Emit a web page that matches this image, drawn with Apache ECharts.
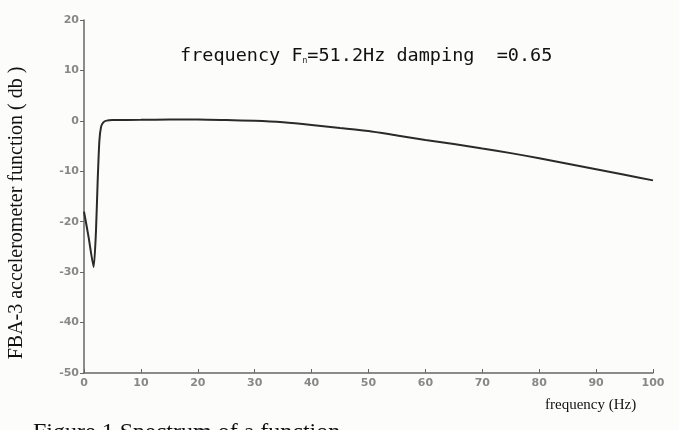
<!DOCTYPE html>
<html lang="en">
<head>
    <meta charset="UTF-8">
    <title>FBA-3 accelerometer function</title>
    <script src="https://cdn.jsdelivr.net/npm/echarts/dist/echarts.min.js"></script>
    <style>
        html, body { margin: 0; padding: 0; background: #fcfcfa; }
        #chart { width: 679px; height: 430px; }
    </style>
</head>
<body>
    <div id="chart"></div>
    <script>
        // frequency (Hz) and response (db)
        var freq = [0, 0.8, 1.7, 2.1, 2.4, 2.7, 3.0, 3.4, 4.0, 5, 10, 15, 20, 25, 30, 35, 40, 45, 50, 55, 60, 65, 70, 75, 80, 85, 90, 95, 100];
        var db   = [-18, -23, -29, -22, -12, -4, -1.2, -0.3, 0.05, 0.15, 0.2, 0.25, 0.25, 0.15, 0, -0.3, -0.8, -1.4, -2.0, -2.9, -3.8, -4.6, -5.5, -6.4, -7.4, -8.5, -9.6, -10.7, -11.8];
        var yTicks = [-50, 20, 10];   // min, max, interval
        var xTicks = [0, 100, 10];

        var points = freq.map(function (f, i) { return [f, db[i]]; });

        var chart = echarts.init(document.getElementById('chart'));
        var tickLabel = {
            color: '#888',
            fontFamily: 'DejaVu Sans',
            fontWeight: 'bold',
            fontSize: 11
        };
        chart.setOption({
            backgroundColor: '#fcfcfa',
            animation: false,
            grid: { left: 84, right: 26, top: 20, bottom: 57 },
            xAxis: {
                type: 'value',
                min: xTicks[0], max: xTicks[1], interval: xTicks[2],
                axisLine: { onZero: false, lineStyle: { color: '#666', width: 1.5 } },
                axisTick: { inside: true, length: 4, lineStyle: { color: '#666' } },
                axisLabel: Object.assign({ margin: 5 }, tickLabel),
                splitLine: { show: false }
            },
            yAxis: {
                type: 'value',
                min: yTicks[0], max: yTicks[1], interval: yTicks[2],
                axisLine: { show: true, lineStyle: { color: '#666', width: 1.5 } },
                axisTick: { show: true, length: 4, lineStyle: { color: '#666' } },
                axisLabel: Object.assign({ margin: 5 }, tickLabel),
                splitLine: { show: false }
            },
            series: [{
                type: 'line',
                data: points,
                showSymbol: false,
                smooth: 0.2,
                lineStyle: { color: '#2a2a2a', width: 2 }
            }],
            graphic: [
                {
                    type: 'text',
                    left: 180, top: 47,
                    style: {
                        text: '{a|frequency F}{s|n}{a|=51.2Hz damping  =0.65}',
                        rich: {
                            a: { fontFamily: 'DejaVu Sans Mono', fontSize: 18.5, fill: '#111' },
                            s: { fontFamily: 'DejaVu Sans Mono', fontSize: 8, fill: '#111', padding: [9, 0, 0, 0] }
                        }
                    }
                },
                {
                    type: 'text',
                    rotation: Math.PI / 2,
                    x: 7, y: 213,
                    style: {
                        text: 'FBA-3 accelerometer function ( db )',
                        fontFamily: 'Liberation Serif',
                        fontSize: 20,
                        fill: '#111',
                        align: 'center',
                        verticalAlign: 'top'
                    }
                },
                {
                    type: 'text',
                    left: 545, top: 398,
                    style: {
                        text: 'frequency (Hz)',
                        fontFamily: 'Liberation Serif',
                        fontSize: 15,
                        fill: '#111'
                    }
                },
                {
                    type: 'text',
                    left: 33, top: 421,
                    style: {
                        text: 'Figure 1 Spectrum of a function',
                        fontFamily: 'Liberation Serif',
                        fontSize: 24,
                        fill: '#111'
                    }
                }
            ]
        });
    </script>
</body>
</html>
